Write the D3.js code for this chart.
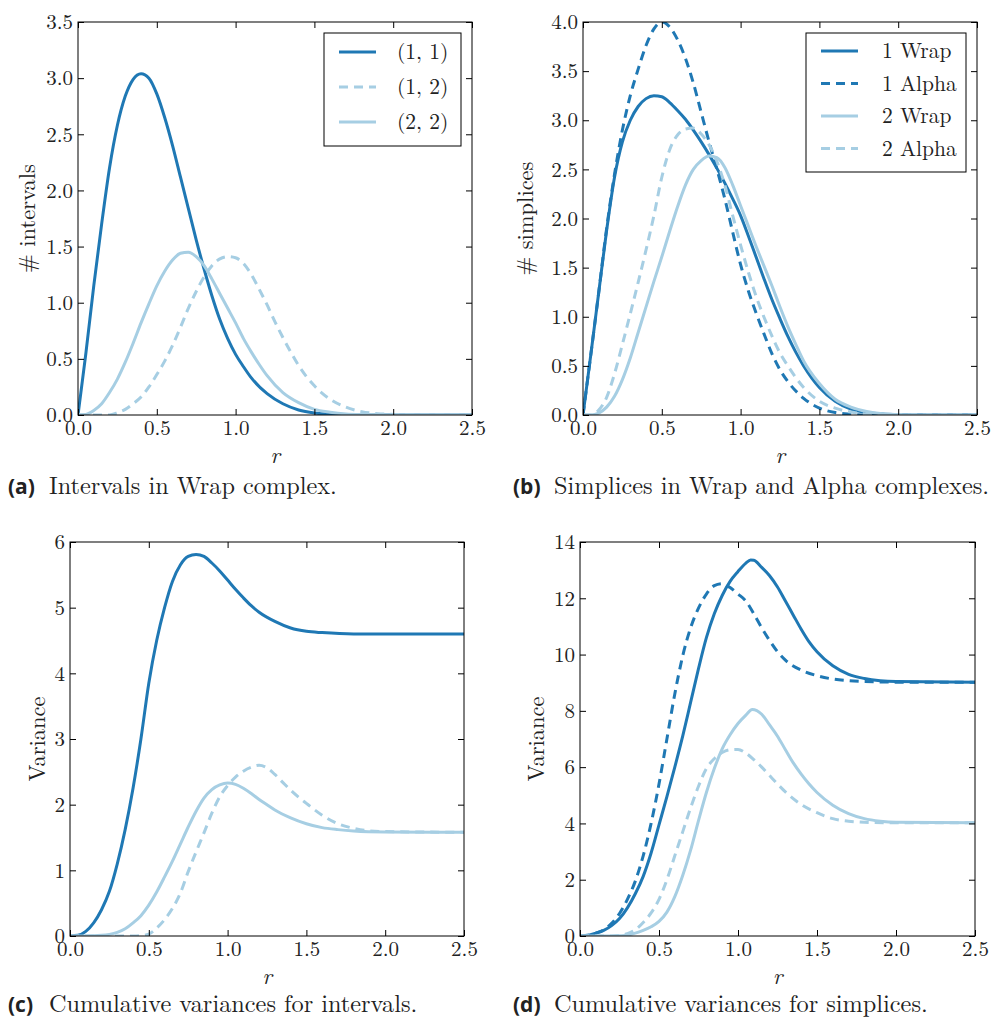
<!DOCTYPE html>
<html>
<head>
<meta charset="utf-8">
<script src="https://cdn.jsdelivr.net/npm/d3@7"></script>
<style>
  body { margin: 0; background: #fff; }
  svg text { font-family: 'Latin Modern Roman'; fill: #222; }
</style>
</head>
<body>
<div id="chart"></div>
<script>
var dark = "#1f78b4",
  light = "#a6cee3";
var serif = "'Latin Modern Roman'";

var rTicks = [0, 0.5, 1.0, 1.5, 2.0, 2.5];
var yTicksA = [0, 0.5, 1.0, 1.5, 2.0, 2.5, 3.0, 3.5];
var yTicksB = [0, 0.5, 1.0, 1.5, 2.0, 2.5, 3.0, 3.5, 4.0];
var yTicksC = [0, 1, 2, 3, 4, 5, 6];
var yTicksD = [0, 2, 4, 6, 8, 10, 12, 14];

var legendA = ["(1, 1)", "(1, 2)", "(2, 2)"];
var legendB = ["1 Wrap", "1 Alpha", "2 Wrap", "2 Alpha"];

// (a) intervals in wrap complex: [r, value]
var a11 = [[0,0],[0.05,0.55],[0.1,1.15],[0.15,1.7],[0.2,2.2],[0.25,2.58],[0.3,2.84],[0.35,2.99],[0.4,3.04],[0.45,3.0],[0.5,2.86],[0.55,2.65],[0.6,2.4],[0.65,2.12],[0.7,1.84],[0.75,1.56],[0.8,1.3],[0.85,1.06],[0.9,0.85],[0.95,0.68],[1.0,0.54],[1.05,0.43],[1.1,0.33],[1.2,0.19],[1.3,0.1],[1.4,0.045],[1.5,0.018],[1.6,0.006],[1.8,0],[2.5,0]];
var a12 = [[0,0],[0.2,0],[0.25,0.02],[0.3,0.05],[0.35,0.1],[0.4,0.16],[0.45,0.25],[0.5,0.36],[0.55,0.48],[0.6,0.62],[0.65,0.78],[0.7,0.95],[0.75,1.1],[0.8,1.23],[0.85,1.33],[0.9,1.39],[0.95,1.41],[1.0,1.4],[1.05,1.35],[1.1,1.25],[1.15,1.12],[1.2,0.98],[1.25,0.83],[1.3,0.69],[1.35,0.56],[1.4,0.44],[1.5,0.26],[1.6,0.14],[1.7,0.07],[1.8,0.03],[1.9,0.012],[2.0,0.005],[2.2,0],[2.5,0]];
var a22 = [[0,0],[0.05,0.005],[0.1,0.04],[0.15,0.1],[0.2,0.2],[0.25,0.32],[0.3,0.47],[0.35,0.64],[0.4,0.82],[0.45,0.99],[0.5,1.15],[0.55,1.28],[0.6,1.38],[0.65,1.44],[0.7,1.45],[0.75,1.41],[0.8,1.33],[0.85,1.21],[0.9,1.08],[0.95,0.95],[1.0,0.82],[1.05,0.68],[1.1,0.56],[1.15,0.45],[1.2,0.35],[1.3,0.2],[1.4,0.11],[1.5,0.05],[1.6,0.025],[1.7,0.01],[1.8,0.004],[2.0,0],[2.5,0]];

// (b) simplices in wrap and alpha complexes
var b1w = [[0,0],[0.05,0.62],[0.1,1.25],[0.15,1.88],[0.2,2.42],[0.25,2.78],[0.3,3.0],[0.35,3.14],[0.4,3.22],[0.45,3.25],[0.5,3.24],[0.55,3.18],[0.6,3.1],[0.65,3.01],[0.7,2.9],[0.75,2.78],[0.8,2.65],[0.85,2.51],[0.9,2.36],[0.95,2.2],[1.0,2.03],[1.05,1.82],[1.1,1.6],[1.15,1.38],[1.2,1.17],[1.25,0.98],[1.3,0.8],[1.35,0.64],[1.4,0.5],[1.5,0.28],[1.6,0.14],[1.7,0.06],[1.8,0.025],[1.9,0.01],[2.0,0.003],[2.1,0],[2.5,0]];
var b1a = [[0,0],[0.05,0.62],[0.1,1.25],[0.15,1.9],[0.2,2.45],[0.25,2.9],[0.3,3.25],[0.35,3.52],[0.4,3.76],[0.45,3.93],[0.5,4.0],[0.55,3.95],[0.6,3.82],[0.65,3.63],[0.7,3.38],[0.75,3.08],[0.8,2.78],[0.85,2.5],[0.9,2.2],[0.95,1.86],[1.0,1.53],[1.05,1.26],[1.1,1.03],[1.15,0.82],[1.2,0.62],[1.25,0.46],[1.3,0.34],[1.4,0.17],[1.5,0.07],[1.6,0.025],[1.7,0.008],[1.8,0],[2.5,0]];
var b2w = [[0,0],[0.05,0],[0.1,0.02],[0.15,0.08],[0.2,0.19],[0.25,0.36],[0.3,0.58],[0.35,0.84],[0.4,1.1],[0.45,1.36],[0.5,1.61],[0.55,1.87],[0.6,2.12],[0.65,2.34],[0.7,2.5],[0.75,2.59],[0.8,2.635],[0.85,2.62],[0.9,2.52],[0.95,2.34],[1.0,2.13],[1.05,1.92],[1.1,1.71],[1.15,1.51],[1.2,1.31],[1.25,1.1],[1.3,0.9],[1.35,0.72],[1.4,0.55],[1.5,0.32],[1.6,0.16],[1.7,0.08],[1.8,0.035],[1.9,0.012],[2.0,0.004],[2.1,0],[2.5,0]];
var b2a = [[0,0],[0.05,0],[0.1,0.05],[0.15,0.18],[0.2,0.42],[0.25,0.72],[0.3,1.03],[0.35,1.35],[0.4,1.68],[0.45,2.03],[0.5,2.42],[0.55,2.7],[0.6,2.85],[0.65,2.91],[0.7,2.92],[0.75,2.86],[0.8,2.75],[0.85,2.58],[0.9,2.34],[0.95,2.03],[1.0,1.73],[1.05,1.45],[1.1,1.2],[1.15,0.99],[1.2,0.8],[1.25,0.63],[1.3,0.5],[1.4,0.28],[1.5,0.14],[1.6,0.07],[1.7,0.03],[1.8,0.01],[1.9,0.004],[2.0,0],[2.5,0]];

// (c) cumulative variances for intervals
var c11 = [[0,0],[0.05,0.01],[0.1,0.07],[0.15,0.2],[0.2,0.4],[0.25,0.68],[0.3,1.1],[0.35,1.62],[0.4,2.25],[0.45,3.0],[0.5,3.85],[0.55,4.5],[0.6,5.0],[0.65,5.4],[0.7,5.65],[0.75,5.78],[0.8,5.81],[0.85,5.78],[0.9,5.68],[0.95,5.56],[1.0,5.42],[1.05,5.28],[1.1,5.15],[1.15,5.03],[1.2,4.93],[1.3,4.79],[1.4,4.69],[1.5,4.64],[1.6,4.62],[1.8,4.6],[2.5,4.6]];
var c12 = [[0,0],[0.4,0],[0.45,0.005],[0.5,0.03],[0.55,0.12],[0.6,0.25],[0.65,0.42],[0.7,0.65],[0.75,0.98],[0.8,1.28],[0.85,1.57],[0.9,1.87],[0.95,2.12],[1.0,2.29],[1.05,2.42],[1.1,2.51],[1.15,2.57],[1.2,2.6],[1.25,2.56],[1.3,2.46],[1.35,2.34],[1.4,2.22],[1.5,2.02],[1.6,1.84],[1.7,1.71],[1.8,1.64],[1.9,1.6],[2.0,1.59],[2.5,1.58]];
var c22 = [[0,0],[0.1,0],[0.2,0.01],[0.25,0.025],[0.3,0.055],[0.35,0.11],[0.4,0.2],[0.45,0.31],[0.5,0.47],[0.55,0.67],[0.6,0.9],[0.65,1.14],[0.7,1.4],[0.75,1.66],[0.8,1.9],[0.85,2.1],[0.9,2.23],[0.95,2.3],[1.0,2.33],[1.05,2.31],[1.1,2.25],[1.15,2.17],[1.2,2.08],[1.25,2.0],[1.3,1.92],[1.4,1.8],[1.5,1.71],[1.6,1.65],[1.7,1.62],[1.8,1.6],[2.0,1.585],[2.5,1.58]];

// (d) cumulative variances for simplices
var d1w = [[0,0],[0.05,0.02],[0.1,0.1],[0.15,0.2],[0.2,0.37],[0.25,0.62],[0.3,1.0],[0.35,1.5],[0.4,2.12],[0.45,2.95],[0.5,3.95],[0.55,4.95],[0.6,6.0],[0.65,7.1],[0.7,8.3],[0.75,9.5],[0.8,10.6],[0.85,11.45],[0.9,12.1],[0.95,12.6],[1.0,12.95],[1.05,13.25],[1.08,13.36],[1.1,13.35],[1.15,13.1],[1.2,12.8],[1.25,12.4],[1.3,11.9],[1.35,11.4],[1.4,10.9],[1.45,10.45],[1.5,10.1],[1.6,9.6],[1.7,9.3],[1.8,9.15],[1.9,9.07],[2.0,9.04],[2.5,9.02]];
var d1a = [[0,0],[0.1,0.1],[0.15,0.22],[0.2,0.45],[0.25,0.8],[0.3,1.3],[0.35,1.95],[0.4,2.85],[0.45,4.0],[0.5,5.4],[0.55,7.0],[0.6,8.6],[0.65,9.95],[0.7,10.95],[0.75,11.65],[0.8,12.15],[0.85,12.45],[0.9,12.52],[0.95,12.38],[1.0,12.15],[1.05,11.9],[1.1,11.45],[1.15,10.95],[1.2,10.5],[1.25,10.1],[1.3,9.8],[1.4,9.45],[1.5,9.25],[1.6,9.13],[1.7,9.07],[1.8,9.04],[2.0,9.02],[2.5,9.02]];
var d2w = [[0,0],[0.2,0],[0.25,0.01],[0.3,0.03],[0.35,0.1],[0.4,0.2],[0.45,0.33],[0.5,0.52],[0.55,0.85],[0.6,1.4],[0.65,2.15],[0.7,3.05],[0.75,4.1],[0.8,5.1],[0.85,5.95],[0.9,6.65],[0.95,7.15],[1.0,7.55],[1.05,7.85],[1.09,8.05],[1.15,7.88],[1.2,7.5],[1.25,7.1],[1.3,6.62],[1.35,6.15],[1.4,5.75],[1.45,5.4],[1.5,5.1],[1.6,4.65],[1.7,4.35],[1.8,4.17],[1.9,4.08],[2.0,4.04],[2.5,4.02]];
var d2a = [[0,0],[0.2,0],[0.25,0.02],[0.3,0.08],[0.35,0.22],[0.4,0.48],[0.45,0.82],[0.5,1.3],[0.55,2.0],[0.6,2.85],[0.65,3.7],[0.7,4.55],[0.75,5.32],[0.8,5.95],[0.85,6.3],[0.9,6.52],[0.95,6.62],[1.0,6.63],[1.05,6.5],[1.1,6.27],[1.15,6.0],[1.2,5.7],[1.25,5.4],[1.3,5.12],[1.4,4.67],[1.5,4.38],[1.6,4.17],[1.7,4.08],[1.8,4.04],[2.0,4.02],[2.5,4.02]];

var dash = "9,6";

var svg = d3.select("#chart").append("svg")
  .attr("width", 994)
  .attr("height", 1018);

var drawPanel = function(p) {
  var x = d3.scaleLinear().domain([0, 2.5]).range([0, p.w]);
  var y = d3.scaleLinear().domain([0, d3.max(p.yTicks)]).range([p.h, 0]);

  var g = svg.append("g")
    .attr("transform", "translate(" + p.left + "," + p.top + ")");

  g.append("clipPath").attr("id", "clip" + p.id)
    .append("rect").attr("width", p.w).attr("height", p.h);

  var line = d3.line()
    .x(function(d) { return x(d[0]); })
    .y(function(d) { return y(d[1]); })
    .curve(d3.curveMonotoneX);

  g.append("g").attr("clip-path", "url(#clip" + p.id + ")")
    .selectAll("path")
    .data(p.series)
    .enter().append("path")
    .attr("d", function(s) { return line(s.data); })
    .attr("fill", "none")
    .attr("stroke", function(s) { return s.color; })
    .attr("stroke-width", 3)
    .attr("stroke-dasharray", function(s) { return s.dashed ? dash : null; });

  // axes with inside ticks on all four sides
  var fmtX = d3.format(".1f");
  g.append("g").attr("transform", "translate(0," + p.h + ")")
    .call(d3.axisBottom(x).tickValues(rTicks).tickFormat(fmtX).tickSizeInner(-6).tickSizeOuter(0).tickPadding(5));
  g.append("g")
    .call(d3.axisLeft(y).tickValues(p.yTicks).tickFormat(p.fmt).tickSizeInner(-6).tickSizeOuter(0).tickPadding(5));
  g.append("g")
    .call(d3.axisTop(x).tickValues(rTicks).tickFormat("").tickSizeInner(-6).tickSizeOuter(0));
  g.append("g").attr("transform", "translate(" + p.w + ",0)")
    .call(d3.axisRight(y).tickValues(p.yTicks).tickFormat("").tickSizeInner(-6).tickSizeOuter(0));

  g.selectAll(".domain").remove();
  g.selectAll(".tick line").attr("stroke", "#000").attr("stroke-width", 1);
  g.selectAll(".tick text")
    .style("font-family", serif)
    .style("font-size", "21px")
    .attr("fill", "#222");

  g.append("rect")
    .attr("width", p.w).attr("height", p.h)
    .attr("fill", "none").attr("stroke", "#000").attr("stroke-width", 1);

  g.append("text")
    .attr("x", p.w / 2).attr("y", p.h + 48)
    .attr("text-anchor", "middle")
    .style("font-family", serif)
    .style("font-size", "23px").style("font-style", "italic")
    .text("r");

  g.append("text")
    .attr("transform", "translate(" + (-p.ylabelOff) + "," + (p.h / 2) + ") rotate(-90)")
    .attr("text-anchor", "middle")
    .style("font-family", serif)
    .style("font-size", "22.5px")
    .text(p.ylabel);

  // caption
  var cap = svg.append("text")
    .attr("x", p.capX).attr("y", p.capY);
  cap.append("tspan")
    .style("font-family", "'Open Sans'")
    .style("font-weight", "bold").style("font-size", "21px")
    .text(p.tag);
  cap.append("tspan")
    .attr("x", p.capX + 41)
    .style("font-family", serif)
    .style("font-size", "24.3px")
    .text(p.caption);

  if (p.legend) {
    var L = p.legend;
    var lg = g.append("g").attr("transform", "translate(" + L.x + "," + L.y + ")");
    lg.append("rect")
      .attr("width", L.w).attr("height", L.h)
      .attr("fill", "#fff").attr("stroke", "#000").attr("stroke-width", 1);
    var item = lg.selectAll("g.item")
      .data(p.series)
      .enter().append("g")
      .attr("class", "item")
      .attr("transform", function(s, i) { return "translate(0," + (L.first + i * L.step) + ")"; });
    item.append("line")
      .attr("x1", 15).attr("x2", 52)
      .attr("stroke", function(s) { return s.color; })
      .attr("stroke-width", 3)
      .attr("stroke-dasharray", function(s) { return s.dashed ? dash : null; });
    item.append("text")
      .attr("x", L.textX).attr("dy", "0.33em")
      .style("font-family", serif)
      .style("font-size", "21.5px")
      .text(function(s, i) { return L.labels[i]; });
  }
}

drawPanel({
  id: "a", left: 78, top: 22, w: 394, h: 393,
  yTicks: yTicksA, fmt: d3.format(".1f"), ylabel: "# intervals", ylabelOff: 43,
  tag: "(a)", caption: "Intervals in Wrap complex.", capX: 8, capY: 494,
  series: [
    {data: a11, color: dark, dashed: false},
    {data: a12, color: light, dashed: true},
    {data: a22, color: light, dashed: false}
  ],
  legend: {x: 246, y: 11, w: 137, h: 113, first: 19, step: 35, textX: 73, labels: legendA}
});

drawPanel({
  id: "b", left: 583, top: 22, w: 394, h: 393,
  yTicks: yTicksB, fmt: d3.format(".1f"), ylabel: "# simplices", ylabelOff: 50,
  tag: "(b)", caption: "Simplices in Wrap and Alpha complexes.", capX: 513, capY: 494,
  series: [
    {data: b1w, color: dark, dashed: false},
    {data: b1a, color: dark, dashed: true},
    {data: b2w, color: light, dashed: false},
    {data: b2a, color: light, dashed: true}
  ],
  legend: {x: 223, y: 11, w: 160, h: 139, first: 18, step: 32.5, textX: 76, labels: legendB}
});

drawPanel({
  id: "c", left: 70, top: 542, w: 394, h: 394,
  yTicks: yTicksC, fmt: d3.format("d"), ylabel: "Variance", ylabelOff: 25,
  tag: "(c)", caption: "Cumulative variances for intervals.", capX: 8, capY: 1012,
  series: [
    {data: c11, color: dark, dashed: false},
    {data: c12, color: light, dashed: true},
    {data: c22, color: light, dashed: false}
  ]
});

drawPanel({
  id: "d", left: 580, top: 542, w: 395, h: 394,
  yTicks: yTicksD, fmt: d3.format("d"), ylabel: "Variance", ylabelOff: 36,
  tag: "(d)", caption: "Cumulative variances for simplices.", capX: 513, capY: 1012,
  series: [
    {data: d1w, color: dark, dashed: false},
    {data: d1a, color: dark, dashed: true},
    {data: d2w, color: light, dashed: false},
    {data: d2a, color: light, dashed: true}
  ]
});
</script>
</body>
</html>
